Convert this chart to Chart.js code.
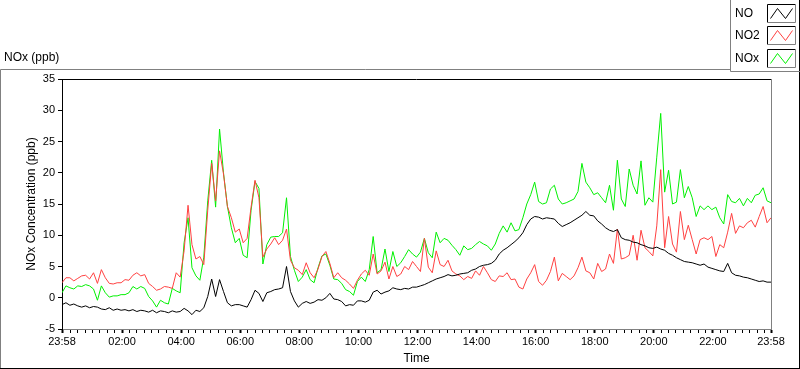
<!DOCTYPE html>
<html>
<head>
<meta charset="utf-8">
<script src="https://cdn.jsdelivr.net/npm/chart.js@4.4.0/dist/chart.umd.min.js"></script>
<style>
html, body { margin: 0; padding: 0; background: #fff; }
#wrap { width: 800px; height: 369px; position: relative; }
</style>
</head>
<body>
<div id="wrap"><canvas id="chart"></canvas></div>
<script>
// minutes after 23:58, one reading every 8 minutes
var stepMinutes = 8;
var tickMinutes = [0, 122, 242, 362, 482, 602, 722, 842, 962, 1082, 1202, 1322, 1440];
var tickLabels = ["23:58", "02:00", "04:00", "06:00", "08:00", "10:00", "12:00",
                  "14:00", "16:00", "18:00", "20:00", "22:00", "23:58"];
var seriesNames = ["NO", "NO2", "NOx"];

var noValues = [
  -1.1,-0.8,-1.2,-1.0,-1.3,-1.5,-1.3,-1.6,-1.4,-1.5,
  -1.8,-1.9,-1.6,-2.0,-1.8,-2.0,-1.9,-2.1,-1.9,-2.2,
  -2.0,-2.1,-2.3,-2.0,-2.4,-2.1,-2.2,-2.4,-2.1,-2.3,
  -2.2,-1.7,-2.1,-2.7,-2.0,-2.2,-1.6,0.2,3.0,0.2,
  2.9,1.0,-0.8,-1.3,-1.1,-1.1,-1.3,-1.5,-0.3,1.2,
  0.7,-0.6,0.8,1.0,1.3,1.4,1.6,5.0,1.0,-0.5,
  -1.5,-0.9,-0.6,-0.9,-0.7,-0.3,-0.4,0.0,0.7,-0.2,
  -0.3,-0.6,-1.3,-1.1,-1.2,-0.5,-0.5,-0.7,-0.4,0.9,
  1.2,0.6,0.9,1.1,1.6,1.4,1.3,1.5,1.4,1.7,
  1.7,1.9,2.1,2.4,2.7,3.0,3.2,3.4,3.7,3.5,
  3.6,3.8,3.9,4.0,4.4,4.6,5.0,5.2,5.3,5.5,
  6.0,7.0,7.6,8.0,8.5,9.0,9.6,10.4,11.7,12.6,
  13.0,12.9,12.6,12.8,12.7,12.6,11.9,11.4,11.7,12.0,
  12.4,12.8,13.2,13.8,13.2,13.1,12.3,11.8,11.2,10.8,
  10.6,10.9,9.6,9.3,9.2,8.9,8.8,8.5,8.3,8.0,
  7.9,8.1,7.8,7.6,7.1,6.8,6.4,6.1,5.8,5.7,
  5.6,5.4,5.2,5.4,4.9,4.7,4.5,4.3,4.2,5.5,
  4.0,3.6,3.5,3.3,3.2,3.0,2.8,2.6,2.7,2.5,2.5
];
var no2Values = [
  2.4,3.2,3.2,2.7,3.1,3.5,3.6,3.0,4.0,2.3,
  4.5,3.2,2.3,2.2,2.4,2.4,2.9,2.8,3.6,4.0,
  3.5,3.7,2.3,1.8,1.2,1.4,1.8,1.7,1.5,4.0,
  3.3,7.5,14.8,8.5,6.2,6.6,5.3,14.0,21.5,15.5,
  23.5,19.8,14.6,12.8,10.5,11.0,8.8,9.5,14.5,18.8,
  16.0,6.5,7.8,8.6,9.6,8.5,9.2,11.0,6.0,4.8,
  4.4,3.7,5.6,4.0,3.2,4.6,6.6,7.4,5.5,3.2,
  4.0,3.2,2.8,2.2,1.5,2.8,3.8,4.4,3.6,7.0,
  3.8,4.3,5.7,3.0,5.0,3.4,3.8,5.0,4.5,5.8,
  5.0,4.2,9.5,4.9,4.0,7.5,5.3,5.0,6.0,4.3,
  3.8,3.5,2.9,3.4,3.1,4.3,3.6,5.0,4.0,2.9,
  2.6,3.5,3.4,4.0,2.9,3.0,1.7,1.4,3.0,4.0,
  5.3,2.6,2.0,2.8,4.2,6.5,2.7,3.9,3.4,2.9,
  3.5,4.8,6.5,4.3,4.0,3.0,5.5,4.2,4.6,7.0,
  5.5,11.0,6.2,6.4,6.8,10.0,6.0,10.8,8.0,7.4,
  6.7,11.5,20.5,8.0,13.0,8.6,7.3,13.8,9.3,11.6,
  9.3,7.0,9.3,9.6,9.3,9.8,6.6,8.5,8.0,10.5,
  13.5,10.3,11.5,11.2,12.0,12.4,11.3,13.0,14.6,12.0,12.8
];
var noxValues = [
  0.8,1.9,1.6,1.4,1.9,1.8,2.1,1.9,1.4,-0.4,
  1.9,0.8,0.1,0.3,0.3,0.5,0.5,0.8,1.8,1.4,
  1.8,1.5,0.2,-0.5,-1.5,-0.4,-0.8,-1.0,1.5,1.1,
  0.8,8.8,12.8,4.8,3.5,2.8,6.5,15.5,22.0,14.5,
  27.0,20.0,14.6,11.2,8.8,9.5,6.8,6.4,14.0,18.6,
  17.5,5.4,8.5,9.7,9.8,9.8,10.4,16.0,6.6,4.4,
  2.6,3.3,4.5,2.9,2.4,4.8,6.7,7.0,5.2,3.0,
  2.9,2.3,1.3,1.0,0.4,2.6,3.3,2.6,4.5,9.8,
  4.0,4.5,7.8,4.2,7.4,5.0,5.6,6.6,7.7,7.0,
  6.5,7.3,9.5,7.2,6.4,10.5,8.8,9.5,9.2,8.4,
  7.7,6.8,8.3,7.7,7.9,8.5,9.0,8.6,8.3,7.6,
  8.6,10.3,11.5,10.5,12.0,10.7,10.9,12.8,15.0,16.5,
  18.5,15.4,15.0,15.2,17.4,18.0,15.8,15.0,15.2,15.5,
  15.8,17.0,21.5,18.5,17.6,16.5,16.8,16.0,15.2,18.0,
  14.0,22.0,15.8,14.6,20.6,18.0,16.6,21.9,14.8,16.0,
  15.3,22.5,29.5,16.9,20.4,15.0,15.3,20.5,16.0,17.8,
  16.0,13.0,14.7,14.1,14.7,14.1,14.5,12.8,11.8,16.5,
  15.4,15.2,15.9,14.7,15.9,15.2,16.4,16.6,17.6,15.5,15.2
];

function toPoints(values) {
    var pts = [];
    for (let i = 0; i < values.length; i++) {
        pts.push({ x: i * stepMinutes, y: values[i] });
    }
    return pts;
}

var FONT = "'Liberation Sans', Arial, sans-serif";

// window frame, top-left caption and the LabVIEW style legend box
var framePlugin = {
    id: 'frame',
    afterDraw: function (chart) {
        var ctx = chart.ctx;
        var a = chart.chartArea;
        ctx.save();
        ctx.lineWidth = 1;
        // plot frame
        ctx.strokeStyle = '#000';
        ctx.beginPath();
        ctx.moveTo(a.left, a.top + 0.5);
        ctx.lineTo(a.right, a.top + 0.5);
        ctx.stroke();
        ctx.strokeStyle = '#808080';
        ctx.beginPath();
        ctx.moveTo(a.right + 0.5, a.top);
        ctx.lineTo(a.right + 0.5, a.bottom);
        ctx.stroke();

        // outer panel
        ctx.strokeStyle = '#808080';
        ctx.beginPath();
        ctx.moveTo(0.5, 369);
        ctx.lineTo(0.5, 69.5);
        ctx.lineTo(730, 69.5);
        ctx.stroke();
        ctx.strokeStyle = '#000';
        ctx.beginPath();
        ctx.moveTo(0, 368.5);
        ctx.lineTo(800, 368.5);
        ctx.moveTo(799.5, 0);
        ctx.lineTo(799.5, 369);
        ctx.stroke();

        ctx.fillStyle = '#000';
        ctx.font = '12px ' + FONT;
        ctx.textBaseline = 'middle';
        ctx.textAlign = 'left';
        ctx.fillText('NOx (ppb)', 4, 58);

        // legend box
        ctx.strokeStyle = '#808080';
        ctx.beginPath();
        ctx.moveTo(730.5, 0);
        ctx.lineTo(730.5, 71.5);
        ctx.lineTo(800, 71.5);
        ctx.stroke();

        var rowY = [14, 36, 59];
        chart.data.datasets.forEach(function (ds, k) {
            var y = rowY[k];
            ctx.fillStyle = '#000';
            ctx.fillText(ds.label, 735, y);
            var bx = 767.5, by = y - 9.5, bw = 28, bh = 18;
            ctx.strokeStyle = '#000';
            ctx.beginPath();
            ctx.moveTo(bx, by + bh);
            ctx.lineTo(bx, by);
            ctx.lineTo(bx + bw, by);
            ctx.stroke();
            ctx.strokeStyle = '#808080';
            ctx.beginPath();
            ctx.moveTo(bx + bw, by);
            ctx.lineTo(bx + bw, by + bh);
            ctx.lineTo(bx, by + bh);
            ctx.stroke();
            ctx.strokeStyle = ds.borderColor;
            ctx.beginPath();
            ctx.moveTo(bx + 3, by + 14);
            ctx.lineTo(bx + 10, by + 4);
            ctx.lineTo(bx + 18, by + 14);
            ctx.lineTo(bx + 25, by + 4);
            ctx.stroke();
        });
        ctx.restore();
    }
};

const ctx = document.getElementById('chart').getContext('2d');
var chartId = new Chart(ctx, {
    type: 'line',
    data: {
        datasets: [
            { label: seriesNames[0], data: toPoints(noValues), borderColor: '#000000' },
            { label: seriesNames[1], data: toPoints(no2Values), borderColor: '#ff4040' },
            { label: seriesNames[2], data: toPoints(noxValues), borderColor: '#00f000' }
        ]
    },
    options: {
        responsive: true,
        maintainAspectRatio: false,
        animation: false,
        layout: { padding: { left: 0, top: 79, right: 29, bottom: 0 } },
        elements: {
            line: { borderWidth: 1, tension: 0 },
            point: { radius: 0 }
        },
        scales: {
            x: {
                type: 'linear',
                min: 0,
                max: 1440,
                afterFit: function (scale) { scale.height = 40; },
                afterBuildTicks: function (scale) {
                    var seen = {};
                    var ticks = [];
                    tickMinutes.forEach(function (m) { seen[m] = true; ticks.push({ value: m }); });
                    for (let m = 17; m < 1435; m += 15) {
                        if (!seen[m]) ticks.push({ value: m });
                    }
                    ticks.sort(function (p, q) { return p.value - q.value; });
                    scale.ticks = ticks;
                },
                ticks: {
                    autoSkip: false,
                    maxRotation: 0,
                    minRotation: 0,
                    padding: 2,
                    color: '#000',
                    font: { family: FONT, size: 11 },
                    callback: function (value) {
                        var k = tickMinutes.indexOf(value);
                        return k >= 0 ? tickLabels[k] : '';
                    }
                },
                grid: {
                    drawOnChartArea: false,
                    tickLength: 4,
                    tickColor: '#000',
                    tickWidth: function (c) {
                        return c.tick && tickMinutes.indexOf(c.tick.value) >= 0 ? 2 : 1;
                    }
                },
                border: { color: '#808080' },
                title: {
                    display: true,
                    text: 'Time',
                    color: '#000',
                    font: { family: FONT, size: 12 },
                    padding: { top: 0, bottom: 3 }
                }
            },
            y: {
                min: -5,
                max: 35,
                afterFit: function (scale) { scale.width = 62; },
                ticks: {
                    stepSize: 5,
                    padding: 3,
                    color: '#000',
                    font: { family: FONT, size: 11 }
                },
                grid: {
                    drawOnChartArea: false,
                    tickLength: 4,
                    tickColor: '#000'
                },
                border: { color: '#000' },
                title: {
                    display: true,
                    text: 'NOx Concentration (ppb)',
                    color: '#000',
                    font: { family: FONT, size: 12 },
                    padding: { top: 24, bottom: 0 }
                }
            }
        },
        plugins: {
            legend: { display: false },
            tooltip: { enabled: false }
        }
    },
    plugins: [framePlugin]
});
</script>
</body>
</html>
